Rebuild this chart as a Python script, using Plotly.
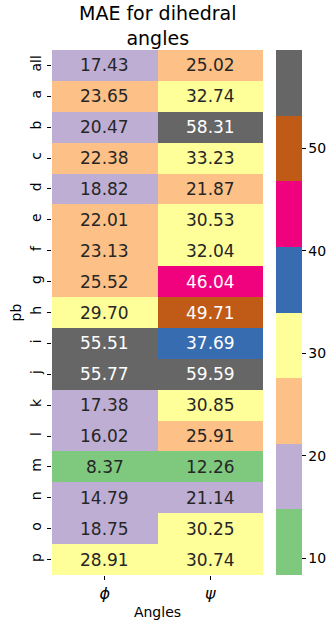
import plotly.graph_objects as go

rows = ["all", "a", "b", "c", "d", "e", "f", "g", "h", "i", "j", "k", "l", "m", "n", "o", "p"]
cols = ["<i>ϕ</i>", "<i>ψ</i>"]
phi = [17.43, 23.65, 20.47, 22.38, 18.82, 22.01, 23.13, 25.52, 29.70, 55.51, 55.77, 17.38, 16.02, 8.37, 14.79, 18.75, 28.91]
psi = [25.02, 32.74, 58.31, 33.23, 21.87, 30.53, 32.04, 46.04, 49.71, 37.69, 59.59, 30.85, 25.91, 12.26, 21.14, 30.25, 30.74]
cbar_ticks = [10, 20, 30, 40, 50]
title_text = "MAE for dihedral<br>angles"

accent = ["#7fc97f", "#beaed4", "#fdc086", "#ffff99", "#386cb0", "#f0027f", "#bf5b17", "#666666"]
n = len(accent)
colorscale = []
for i, c in enumerate(accent):
    colorscale.append([i / n, c])
    colorscale.append([(i + 1) / n, c])

z = [[a, b] for a, b in zip(phi, psi)]
allv = phi + psi
zmin, zmax = min(allv), max(allv)

FONT = "DejaVu Sans"
fig = go.Figure(go.Heatmap(
    z=z, x=cols, y=rows, colorscale=colorscale, zmin=zmin, zmax=zmax,
    xgap=0, ygap=0, hoverinfo="skip",
    colorbar=dict(
        thickness=26, len=1, lenmode="fraction", y=0.5, yanchor="middle", ypad=0,
        x=1.0616, xanchor="left", xpad=0, outlinewidth=0,
        tickvals=cbar_ticks, ticks="outside", ticklen=4, tickcolor="#000",
        tickfont=dict(family=FONT, size=14, color="#000"),
    ),
))

dark_bins = set(range(4, 8))
for r, a, b in zip(rows, phi, psi):
    for cname, v in zip(cols, (a, b)):
        k = min(int((v - zmin) / (zmax - zmin) * n), n - 1)
        color = "#ffffff" if k in dark_bins else "#262626"
        fig.add_annotation(x=cname, y=r, text=f"{v:.2f}", showarrow=False,
                           font=dict(family=FONT, size=17, color=color))

fig.add_annotation(x=0.5, y=1, xref="paper", yref="paper", xanchor="center", yanchor="bottom",
                   yshift=-1, text=title_text, showarrow=False,
                   font=dict(family=FONT, size=19, color="#000"))

fig.update_layout(
    width=329, height=620,
    margin=dict(l=52, r=66, t=50, b=45, autoexpand=False),
    paper_bgcolor="white", plot_bgcolor="white",
    font=dict(family=FONT, color="#000"),
    xaxis=dict(ticks="outside", ticklen=4, tickcolor="#000", showgrid=False, zeroline=False,
               automargin=False,
               tickfont=dict(family=FONT, size=16, color="#000"),
               title=dict(text="Angles", font=dict(family=FONT, size=14, color="#000"), standoff=4)),
    yaxis=dict(autorange="reversed", ticks="outside", ticklen=4, tickcolor="#000", showgrid=False,
               zeroline=False, tickangle=-90, automargin=False,
               tickfont=dict(family=FONT, size=14, color="#000"),
               title=dict(text="pb", font=dict(family=FONT, size=14, color="#000"), standoff=3)),
)

fig.write_html("out.html")
